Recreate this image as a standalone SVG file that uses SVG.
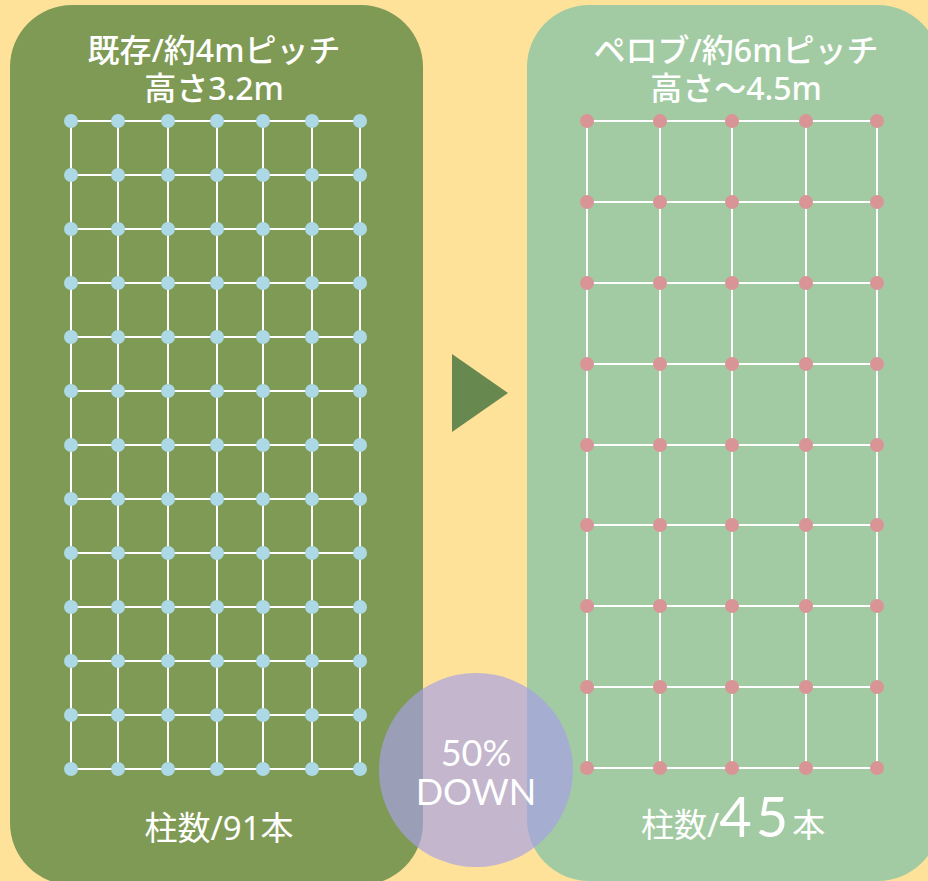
<svg xmlns="http://www.w3.org/2000/svg" width="928" height="881" viewBox="0 0 928 881">
<defs>
<style>
.gl{stroke:#ffffff;stroke-width:2;fill:none}
.db{fill:#ADD8E6}
.dp{fill:#D99595}
.t{fill:#ffffff;font-family:"Noto Sans","Noto Sans CJK JP",sans-serif;text-anchor:middle}
.title{font-size:32px;font-weight:500}
.cnt{font-size:33px;font-weight:400}
.pct{fill:#ffffff;font-family:Lato,"Noto Sans",sans-serif;font-size:36px;font-weight:400;text-anchor:middle}
</style>
</defs>
<rect x="0" y="0" width="928" height="881" fill="#FFE29A"/>

<g id="left-panel">
<rect x="10" y="5" width="413" height="880" rx="62" ry="62" fill="#7F9A55"/>
<text class="t title" x="214" y="62">既存/約4mピッチ</text>
<text class="t title" x="214" y="100">高さ3.2m</text>
<g class="gl">
<path d="M71 121V769M118 121V769M168 121V769M217 121V769M263 121V769M312 121V769M360 121V769"/>
<path d="M71 121H360M71 175H360M71 229H360M71 283H360M71 337H360M71 391H360M71 445H360M71 499H360M71 553H360M71 607H360M71 661H360M71 715H360M71 769H360"/>
</g>
<g class="db">
<circle cx="71" cy="121" r="7"/><circle cx="118" cy="121" r="7"/><circle cx="168" cy="121" r="7"/><circle cx="217" cy="121" r="7"/><circle cx="263" cy="121" r="7"/><circle cx="312" cy="121" r="7"/><circle cx="360" cy="121" r="7"/>
<circle cx="71" cy="175" r="7"/><circle cx="118" cy="175" r="7"/><circle cx="168" cy="175" r="7"/><circle cx="217" cy="175" r="7"/><circle cx="263" cy="175" r="7"/><circle cx="312" cy="175" r="7"/><circle cx="360" cy="175" r="7"/>
<circle cx="71" cy="229" r="7"/><circle cx="118" cy="229" r="7"/><circle cx="168" cy="229" r="7"/><circle cx="217" cy="229" r="7"/><circle cx="263" cy="229" r="7"/><circle cx="312" cy="229" r="7"/><circle cx="360" cy="229" r="7"/>
<circle cx="71" cy="283" r="7"/><circle cx="118" cy="283" r="7"/><circle cx="168" cy="283" r="7"/><circle cx="217" cy="283" r="7"/><circle cx="263" cy="283" r="7"/><circle cx="312" cy="283" r="7"/><circle cx="360" cy="283" r="7"/>
<circle cx="71" cy="337" r="7"/><circle cx="118" cy="337" r="7"/><circle cx="168" cy="337" r="7"/><circle cx="217" cy="337" r="7"/><circle cx="263" cy="337" r="7"/><circle cx="312" cy="337" r="7"/><circle cx="360" cy="337" r="7"/>
<circle cx="71" cy="391" r="7"/><circle cx="118" cy="391" r="7"/><circle cx="168" cy="391" r="7"/><circle cx="217" cy="391" r="7"/><circle cx="263" cy="391" r="7"/><circle cx="312" cy="391" r="7"/><circle cx="360" cy="391" r="7"/>
<circle cx="71" cy="445" r="7"/><circle cx="118" cy="445" r="7"/><circle cx="168" cy="445" r="7"/><circle cx="217" cy="445" r="7"/><circle cx="263" cy="445" r="7"/><circle cx="312" cy="445" r="7"/><circle cx="360" cy="445" r="7"/>
<circle cx="71" cy="499" r="7"/><circle cx="118" cy="499" r="7"/><circle cx="168" cy="499" r="7"/><circle cx="217" cy="499" r="7"/><circle cx="263" cy="499" r="7"/><circle cx="312" cy="499" r="7"/><circle cx="360" cy="499" r="7"/>
<circle cx="71" cy="553" r="7"/><circle cx="118" cy="553" r="7"/><circle cx="168" cy="553" r="7"/><circle cx="217" cy="553" r="7"/><circle cx="263" cy="553" r="7"/><circle cx="312" cy="553" r="7"/><circle cx="360" cy="553" r="7"/>
<circle cx="71" cy="607" r="7"/><circle cx="118" cy="607" r="7"/><circle cx="168" cy="607" r="7"/><circle cx="217" cy="607" r="7"/><circle cx="263" cy="607" r="7"/><circle cx="312" cy="607" r="7"/><circle cx="360" cy="607" r="7"/>
<circle cx="71" cy="661" r="7"/><circle cx="118" cy="661" r="7"/><circle cx="168" cy="661" r="7"/><circle cx="217" cy="661" r="7"/><circle cx="263" cy="661" r="7"/><circle cx="312" cy="661" r="7"/><circle cx="360" cy="661" r="7"/>
<circle cx="71" cy="715" r="7"/><circle cx="118" cy="715" r="7"/><circle cx="168" cy="715" r="7"/><circle cx="217" cy="715" r="7"/><circle cx="263" cy="715" r="7"/><circle cx="312" cy="715" r="7"/><circle cx="360" cy="715" r="7"/>
<circle cx="71" cy="769" r="7"/><circle cx="118" cy="769" r="7"/><circle cx="168" cy="769" r="7"/><circle cx="217" cy="769" r="7"/><circle cx="263" cy="769" r="7"/><circle cx="312" cy="769" r="7"/><circle cx="360" cy="769" r="7"/>
</g>
<text class="t cnt" x="219" y="840">柱数/91本</text>
</g>

<g id="right-panel">
<rect x="527" y="5" width="413" height="876" rx="62" ry="62" fill="#A3CBA3"/>
<text class="t title" x="736" y="62">ペロブ/約6mピッチ</text>
<text class="t title" x="736" y="100">高さ～4.5m</text>
<g class="gl">
<path d="M587 121V768M660 121V768M732 121V768M806 121V768M877 121V768"/>
<path d="M587 121H877M587 202H877M587 283H877M587 364H877M587 445H877M587 525H877M587 606H877M587 687H877M587 768H877"/>
</g>
<g class="dp">
<circle cx="587" cy="121" r="7"/><circle cx="660" cy="121" r="7"/><circle cx="732" cy="121" r="7"/><circle cx="806" cy="121" r="7"/><circle cx="877" cy="121" r="7"/>
<circle cx="587" cy="202" r="7"/><circle cx="660" cy="202" r="7"/><circle cx="732" cy="202" r="7"/><circle cx="806" cy="202" r="7"/><circle cx="877" cy="202" r="7"/>
<circle cx="587" cy="283" r="7"/><circle cx="660" cy="283" r="7"/><circle cx="732" cy="283" r="7"/><circle cx="806" cy="283" r="7"/><circle cx="877" cy="283" r="7"/>
<circle cx="587" cy="364" r="7"/><circle cx="660" cy="364" r="7"/><circle cx="732" cy="364" r="7"/><circle cx="806" cy="364" r="7"/><circle cx="877" cy="364" r="7"/>
<circle cx="587" cy="445" r="7"/><circle cx="660" cy="445" r="7"/><circle cx="732" cy="445" r="7"/><circle cx="806" cy="445" r="7"/><circle cx="877" cy="445" r="7"/>
<circle cx="587" cy="525" r="7"/><circle cx="660" cy="525" r="7"/><circle cx="732" cy="525" r="7"/><circle cx="806" cy="525" r="7"/><circle cx="877" cy="525" r="7"/>
<circle cx="587" cy="606" r="7"/><circle cx="660" cy="606" r="7"/><circle cx="732" cy="606" r="7"/><circle cx="806" cy="606" r="7"/><circle cx="877" cy="606" r="7"/>
<circle cx="587" cy="687" r="7"/><circle cx="660" cy="687" r="7"/><circle cx="732" cy="687" r="7"/><circle cx="806" cy="687" r="7"/><circle cx="877" cy="687" r="7"/>
<circle cx="587" cy="768" r="7"/><circle cx="660" cy="768" r="7"/><circle cx="732" cy="768" r="7"/><circle cx="806" cy="768" r="7"/><circle cx="877" cy="768" r="7"/>
</g>
<text class="t cnt" x="733" y="837">柱数/<tspan font-family="Lato,'Noto Sans',sans-serif" font-size="56" font-weight="400" letter-spacing="4">45</tspan>本</text>
</g>

<g id="connectors">
<polygon points="452,354 452,432 508,393" fill="#67884F"/>
</g>

<g id="badge">
<circle cx="476" cy="770" r="97" fill="#A7A0E6" fill-opacity="0.68"/>
<text class="pct" x="476" y="766">50%</text>
<text class="pct" x="476" y="805">DOWN</text>
</g>
</svg>
